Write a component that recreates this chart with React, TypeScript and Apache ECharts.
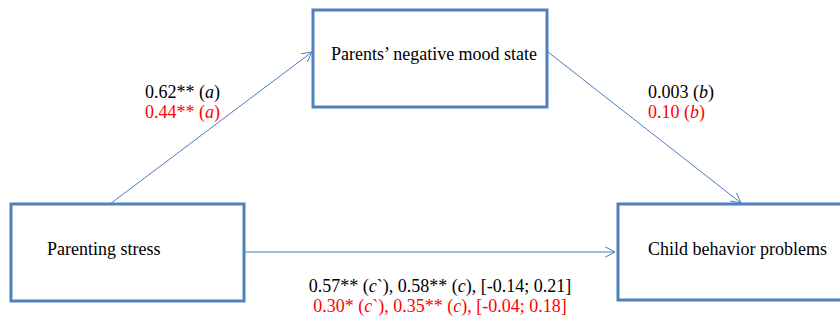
import React, { useEffect, useRef } from "react";
import * as echarts from "echarts";

const nodeNames = ["Parents’ negative mood state", "Parenting stress", "Child behavior problems"];
const pathA = ["0.62**", "0.44**"];
const pathB = ["0.003", "0.10"];
const pathC1 = ["0.57**", "0.30*"];
const pathC = ["0.58**", "0.35**"];
const ciLow = ["-0.14", "-0.04"];
const ciHigh = ["0.21", "0.18"];
const lineColors = ["#000000", "#FF0000"];

const BOX = "#4F81BD";
const ARROW = "#4A7EBB";
const FONT = "Liberation Serif";
const SIZE = 18;

type Seg = [string, boolean];

let ctx: CanvasRenderingContext2D | null = null;
function measure(text: string, italic: boolean): number {
  if (!ctx) ctx = document.createElement("canvas").getContext("2d");
  ctx!.font = `${italic ? "italic " : ""}${SIZE}px ${FONT}`;
  return ctx!.measureText(text).width;
}

function arrow(x1: number, y1: number, x2: number, y2: number): any[] {
  const ang = Math.atan2(y2 - y1, x2 - x1);
  const len = 11;
  const spread = Math.PI / 6.5;
  const p1 = [x2 - len * Math.cos(ang - spread), y2 - len * Math.sin(ang - spread)];
  const p2 = [x2 - len * Math.cos(ang + spread), y2 - len * Math.sin(ang + spread)];
  return [
    { type: "line", shape: { x1, y1, x2, y2 }, style: { stroke: ARROW, lineWidth: 1 } },
    { type: "polyline", shape: { points: [p1, [x2, y2], p2] }, style: { stroke: ARROW, lineWidth: 1, fill: null } },
  ];
}

function box(x: number, y: number, w: number, h: number): any {
  return { type: "rect", shape: { x, y, width: w, height: h }, style: { fill: "#fff", stroke: BOX, lineWidth: 3 } };
}

function label(x: number, yCenter: number, segs: Seg[], color: string, center = false): any[] {
  const widths = segs.map(([t, it]) => measure(t, it));
  const total = widths.reduce((a, b) => a + b, 0);
  let cx = center ? x - total / 2 : x;
  const out: any[] = [];
  segs.forEach(([t, it], i) => {
    out.push({
      type: "text",
      x: cx,
      y: yCenter - 10,
      style: {
        text: t,
        fontFamily: FONT,
        fontSize: SIZE,
        fontStyle: it ? "italic" : "normal",
        fill: color,
      },
    });
    cx += widths[i];
  });
  return out;
}

export default function App() {
  const ref = useRef<HTMLDivElement>(null);
  useEffect(() => {
    document.body.style.margin = "0";
    const chart = echarts.init(ref.current!, null, { renderer: "svg" });
    const elements: any[] = [
      ...arrow(110, 204, 312, 52),
      ...arrow(548, 52, 741, 203),
      ...arrow(245, 252, 615, 252),
      box(313, 10, 234, 97),
      box(11, 204, 233, 97),
      box(618, 204, 240, 96),
      ...label(331, 55, [[nodeNames[0], false]], "#000"),
      ...label(47, 250, [[nodeNames[1], false]], "#000"),
      ...label(648, 250, [[nodeNames[2], false]], "#000"),
    ];
    lineColors.forEach((c, k) => {
      const y = 93 + k * 20;
      elements.push(...label(145, y, [[`${pathA[k]} (`, false], ["a", true], [")", false]], c));
      elements.push(...label(648, y, [[`${pathB[k]} (`, false], ["b", true], [")", false]], c));
      elements.push(
        ...label(
          440,
          287 + k * 20,
          [
            [`${pathC1[k]} (`, false],
            ["c", true],
            ["`), " + `${pathC[k]} (`, false],
            ["c", true],
            [`), [${ciLow[k]}; ${ciHigh[k]}]`, false],
          ],
          c,
          true
        )
      );
    });
    chart.setOption({
      animation: false,
      backgroundColor: "#ffffff",
      graphic: { elements },
    });
    return () => chart.dispose();
  }, []);
  return <div ref={ref} style={{ width: 840, height: 321 }} />;
}
